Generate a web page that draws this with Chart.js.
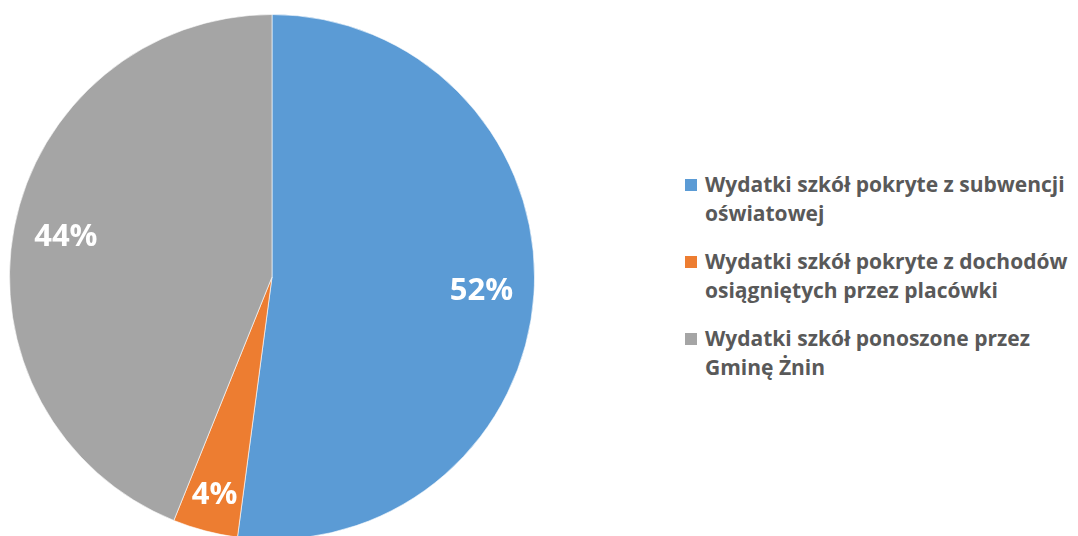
<!DOCTYPE html>
<html lang="pl">
<head>
<meta charset="UTF-8">
<title>Wydatki szkół</title>
<script src="https://cdn.jsdelivr.net/npm/chart.js"></script>
<style>
    body {
        margin: 0;
        width: 1078px;
        height: 536px;
        overflow: hidden;
        background: #fff;
        font-family: "Open Sans", Arial, sans-serif;
    }
    .wykres {
        position: absolute;
        left: 9px;
        top: 14px;
        width: 526px;
        height: 526px;
    }
    #legenda {
        position: absolute;
        left: 685px;
        top: 170px;
        width: 393px;
    }
    .poz {
        position: relative;
        padding-left: 20px;
        margin-bottom: 19px;
        font-size: 21px;
        font-weight: 700;
        line-height: 29px;
        color: #595959;
        white-space: nowrap;
    }
    .poz span {
        position: absolute;
        left: 0;
        top: 9px;
        width: 12px;
        height: 12px;
    }
</style>
</head>
<body>
<div class="wykres"><canvas id="pieChart"></canvas></div>
<div id="legenda"></div>

<script>
    const etykiety = [
        ['Wydatki szkół pokryte z subwencji', 'oświatowej'],
        ['Wydatki szkół pokryte z dochodów', 'osiągniętych przez placówki'],
        ['Wydatki szkół ponoszone przez', 'Gminę Żnin']
    ];
    const wartosci = [52.1, 4.0, 43.9];
    const kolory = ['#5B9BD5', '#ED7D31', '#A5A5A5'];

    // procenty na wycinkach
    const procenty = {
        id: 'procenty',
        afterDatasetsDraw(chart) {
            const ctx = chart.ctx;
            const meta = chart.getDatasetMeta(0);
            const suma = wartosci.reduce((a, b) => a + b, 0);
            ctx.save();
            ctx.fillStyle = '#fff';
            ctx.font = 'bold 31px "Open Sans", Arial, sans-serif';
            ctx.textAlign = 'center';
            ctx.textBaseline = 'middle';
            meta.data.forEach((arc, i) => {
                const p = arc.getProps(['x', 'y', 'startAngle', 'endAngle', 'outerRadius']);
                const kat = (p.startAngle + p.endAngle) / 2;
                const f = wartosci[i] / suma < 0.1 ? 0.86 : 0.8;
                const x = p.x + Math.cos(kat) * p.outerRadius * f;
                const y = p.y + Math.sin(kat) * p.outerRadius * f;
                ctx.fillText(Math.round(wartosci[i] / suma * 100) + '%', x, y);
            });
            ctx.restore();
        }
    };

    new Chart(document.getElementById('pieChart'), {
        type: 'pie',
        data: {
            labels: etykiety.map(e => e.join(' ')),
            datasets: [{
                data: wartosci,
                backgroundColor: kolory,
                borderColor: 'rgba(255,255,255,0.6)',
                borderWidth: 1
            }]
        },
        options: {
            responsive: true,
            maintainAspectRatio: false,
            animation: false,
            layout: { padding: 0 },
            plugins: {
                legend: { display: false },
                tooltip: { enabled: false }
            }
        },
        plugins: [procenty]
    });

    // legenda obok wykresu
    const legenda = document.getElementById('legenda');
    etykiety.forEach((e, i) => {
        const d = document.createElement('div');
        d.className = 'poz';
        d.innerHTML = '<span style="background:' + kolory[i] + '"></span>' + e.join('<br>');
        legenda.appendChild(d);
    });
</script>
</body>
</html>
